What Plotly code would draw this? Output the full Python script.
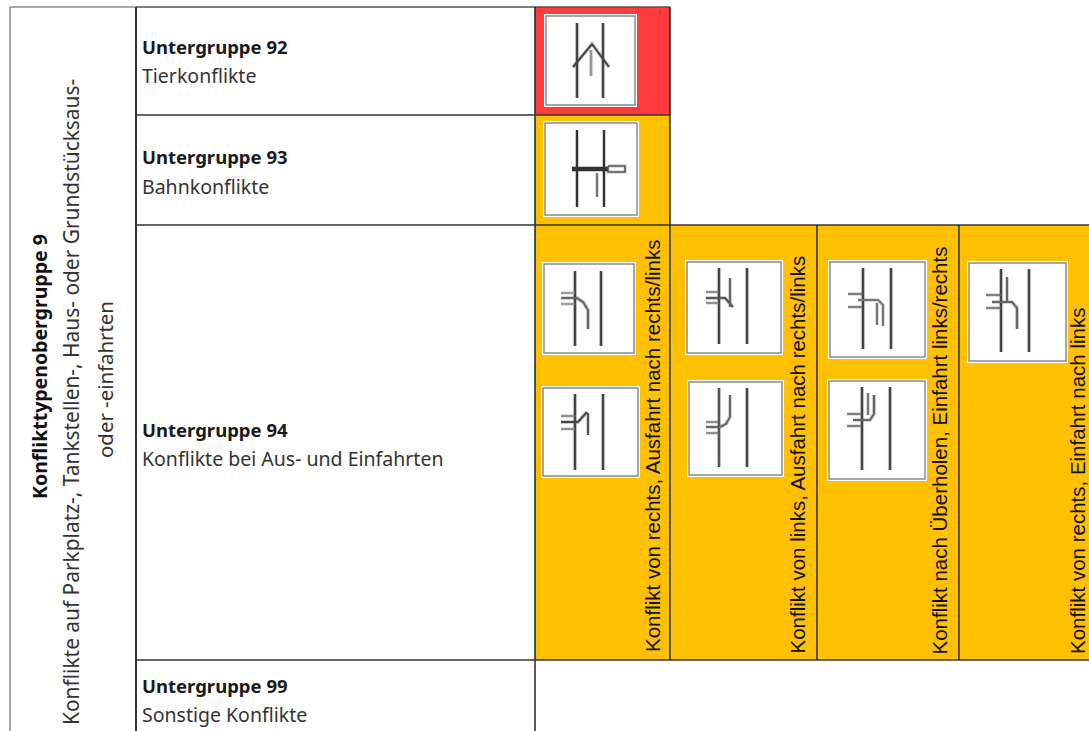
import plotly.graph_objects as go

# Table cells: x0, y0, x1, y1, fill
cell_x0 = [535, 535, 535, 671, 818, 960]
cell_x1 = [670, 670, 670, 817, 959, 1089]
cell_y0 = [7, 115, 225, 225, 225, 225]
cell_y1 = [115, 225, 660, 660, 660, 660]
cell_fill = ["#FF3B3B", "#FFC000", "#FFC000", "#FFC000", "#FFC000", "#FFC000"]

# Grid lines: x0, y0, x1, y1, colour, width
grid = [
    (10, 7, 136, 7, "#8c8c8c", 1.5), (136, 7, 670, 7, "#555555", 1.5),
    (10, 7, 10, 731, "#8c8c8c", 1.5), (136, 7, 136, 731, "#333333", 2),
    (535, 7, 535, 731, "#222222", 1.5), (670, 7, 670, 225, "#222222", 1.5),
    (136, 115, 670, 115, "#333333", 1.5), (136, 225, 1089, 225, "#333333", 1.5),
    (136, 660, 1089, 660, "#333333", 1.5), (670, 225, 670, 660, "#222222", 1.5),
    (817, 225, 817, 660, "#222222", 1.5), (959, 225, 959, 660, "#222222", 1.5),
]

# Pictogram frames
box_x0 = [544, 543, 542, 541, 685, 687, 828, 827, 967]
box_x1 = [637, 639, 636, 640, 783, 784, 927, 927, 1068]
box_y0 = [14, 121, 262, 386, 260, 380, 260, 379, 261]
box_y1 = [107, 217, 355, 478, 355, 477, 359, 481, 363]

# Pictogram strokes: (x list, y list, colour, width)
strokes = [
    # 92
    ([577, 577], [23, 98], "#444444", 2.2), ([603, 603], [23, 98], "#444444", 2.2),
    ([573, 592, 609], [67, 44, 67], "#444444", 2), ([591, 591], [50, 76], "#999999", 2.5),
    # 93
    ([577, 577], [130, 207], "#333333", 2), ([604, 604], [130, 207], "#333333", 2),
    ([572, 608], [169, 169], "#333333", 4),
    ([608, 625, 625, 608, 608], [166, 166, 172, 172, 166], "#555555", 1.5),
    ([597, 597], [173, 197], "#555555", 1.5),
    # 94 top left
    ([575, 575], [271, 346], "#444444", 2.2), ([601, 601], [271, 346], "#444444", 2.2),
    ([561, 575], [293, 293], "#888888", 1.5), ([561, 575], [304, 304], "#888888", 1.5),
    ([561, 577, 583, 588, 588], [298, 298, 302, 310, 329], "#666666", 2.2),
    # 94 bottom left
    ([575, 575], [394, 470], "#444444", 2.2), ([603, 603], [394, 470], "#444444", 2.2),
    ([561, 575], [416, 416], "#777777", 1.5), ([561, 575], [429, 429], "#777777", 1.5),
    ([561, 578, 587], [422, 422, 412], "#444444", 2),
    ([588, 588], [413, 435], "#555555", 2),
    # 94 second column top
    ([719, 719], [268, 344], "#444444", 2.2), ([747, 747], [268, 344], "#444444", 2.2),
    ([706, 719], [292, 292], "#777777", 1.5), ([706, 719], [303, 303], "#777777", 1.5),
    ([706, 725, 733], [298, 298, 307], "#555555", 2),
    ([730, 730], [278, 307], "#666666", 2),
    # 94 second column bottom
    ([719, 719], [388, 467], "#555555", 2.2), ([747, 747], [388, 467], "#444444", 2.2),
    ([706, 719], [422, 422], "#777777", 1.5), ([706, 719], [433, 433], "#777777", 1.5),
    ([706, 720, 726, 730, 730], [427, 427, 424, 417, 395], "#666666", 2),
    # 94 third column top
    ([863, 863], [268, 349], "#444444", 2.2), ([891, 891], [268, 349], "#444444", 2.2),
    ([848, 863], [294, 294], "#666666", 1.5), ([848, 863], [307, 307], "#666666", 1.5),
    ([858, 878, 883, 883], [300, 300, 305, 326], "#777777", 2),
    ([877, 877], [303, 325], "#777777", 2),
    # 94 third column bottom
    ([862, 862], [387, 470], "#444444", 2.2), ([890, 890], [387, 470], "#444444", 2.2),
    ([847, 862], [414, 414], "#666666", 1.5), ([847, 862], [426, 426], "#666666", 1.5),
    ([853, 870, 874, 874], [420, 420, 414, 395], "#666666", 2.2),
    ([868, 868], [393, 415], "#777777", 2),
    # 94 fourth column
    ([1001, 1001], [269, 352], "#444444", 2.2), ([1029, 1029], [269, 352], "#444444", 2.2),
    ([986, 1001], [295, 295], "#666666", 1.5), ([986, 1001], [308, 308], "#666666", 1.5),
    ([992, 1012, 1017, 1017], [302, 302, 308, 329], "#666666", 2.2),
    ([1007, 1007], [277, 302], "#666666", 2),
]

# Row labels
row_titles = ["Untergruppe 92", "Untergruppe 93", "Untergruppe 94", "Untergruppe 99"]
row_subtitles = ["Tierkonflikte", "Bahnkonflikte", "Konflikte bei Aus- und Einfahrten", "Sonstige Konflikte"]
row_title_y = [46, 156, 429, 685]
row_sub_y = [75, 186, 458, 714]

# Column labels
col_labels = [
    "Konflikt von rechts, Ausfahrt nach rechts/links",
    "Konflikt von links, Ausfahrt nach rechts/links",
    "Konflikt nach Überholen, Einfahrt links/rechts",
    "Konflikt von rechts, Einfahrt nach links",
]
col_label_x = [652, 797, 939, 1077]
col_label_top = [238, 255, 247, 308]

# Group labels
group_title = "Konflikttypenobergruppe 9"
group_line_1 = "Konflikte auf Parkplatz-, Tankstellen-, Haus- oder Grundstücksaus-"
group_line_2 = "oder -einfahrten"

fig = go.Figure()
shapes = []
for x0, x1, y0, y1, c in zip(cell_x0, cell_x1, cell_y0, cell_y1, cell_fill):
    shapes.append(dict(type="rect", x0=x0, x1=x1, y0=y0, y1=y1, fillcolor=c, line_width=0, layer="below"))
for x0, x1, y0, y1 in zip(box_x0, box_x1, box_y0, box_y1):
    shapes.append(dict(type="rect", x0=x0, x1=x1, y0=y0, y1=y1, fillcolor="white", line_width=0, layer="below"))
    shapes.append(dict(type="rect", x0=x0 + 2, x1=x1 - 2, y0=y0 + 2, y1=y1 - 2, fillcolor="white",
                       line=dict(color="#8a8a8a", width=1.5), layer="below"))
for x0, y0, x1, y1, c, w in grid:
    shapes.append(dict(type="line", x0=x0, x1=x1, y0=y0, y1=y1, line=dict(color=c, width=w), layer="below"))

# Soft halo beneath each stroke, imitating the blur of the scanned pictograms
for xs, ys, c, w in strokes:
    fig.add_trace(go.Scatter(x=xs, y=ys, mode="lines", opacity=0.25, line=dict(color=c, width=w + 2),
                             hoverinfo="skip", showlegend=False))
for xs, ys, c, w in strokes:
    fig.add_trace(go.Scatter(x=xs, y=ys, mode="lines", line=dict(color=c, width=w),
                             hoverinfo="skip", showlegend=False))

anns = []
SANS = "Noto Sans"
for t, s, ty, sy in zip(row_titles, row_subtitles, row_title_y, row_sub_y):
    anns.append(dict(x=140, y=ty, text=f"<b>{t}</b>", xanchor="left", yanchor="middle", showarrow=False,
                     font=dict(family=SANS, size=18.5, color="#1a1a1a")))
    anns.append(dict(x=140, y=sy, text=s, xanchor="left", yanchor="middle", showarrow=False,
                     font=dict(family=SANS, size=19.5, color="#333333")))
for t, x, top in zip(col_labels, col_label_x, col_label_top):
    anns.append(dict(x=x, y=(654 + top) / 2, text=t, textangle=-90, xanchor="center", yanchor="middle",
                     showarrow=False, font=dict(family="Liberation Sans", size=20.5, color="#111111")))
anns.append(dict(x=39, y=367, text=f"<b>{group_title}</b>", textangle=-90, xanchor="center", yanchor="middle",
                 showarrow=False, font=dict(family=SANS, size=19.5, color="#111111")))
anns.append(dict(x=71, y=402, text=group_line_1, textangle=-90, xanchor="center", yanchor="middle",
                 showarrow=False, font=dict(family=SANS, size=20.9, color="#333333")))
anns.append(dict(x=105, y=380, text=group_line_2, textangle=-90, xanchor="center", yanchor="middle",
                 showarrow=False, font=dict(family=SANS, size=20.4, color="#333333")))

fig.update_layout(
    width=1089, height=731, margin=dict(l=0, r=0, t=0, b=0),
    paper_bgcolor="white", plot_bgcolor="white", showlegend=False,
    xaxis=dict(range=[0, 1089], visible=False, fixedrange=True),
    yaxis=dict(range=[731, 0], visible=False, fixedrange=True),
    shapes=shapes, annotations=anns,
)
fig.write_html("out.html", post_script="document.body.style.margin='0';", config={"displayModeBar": False})
